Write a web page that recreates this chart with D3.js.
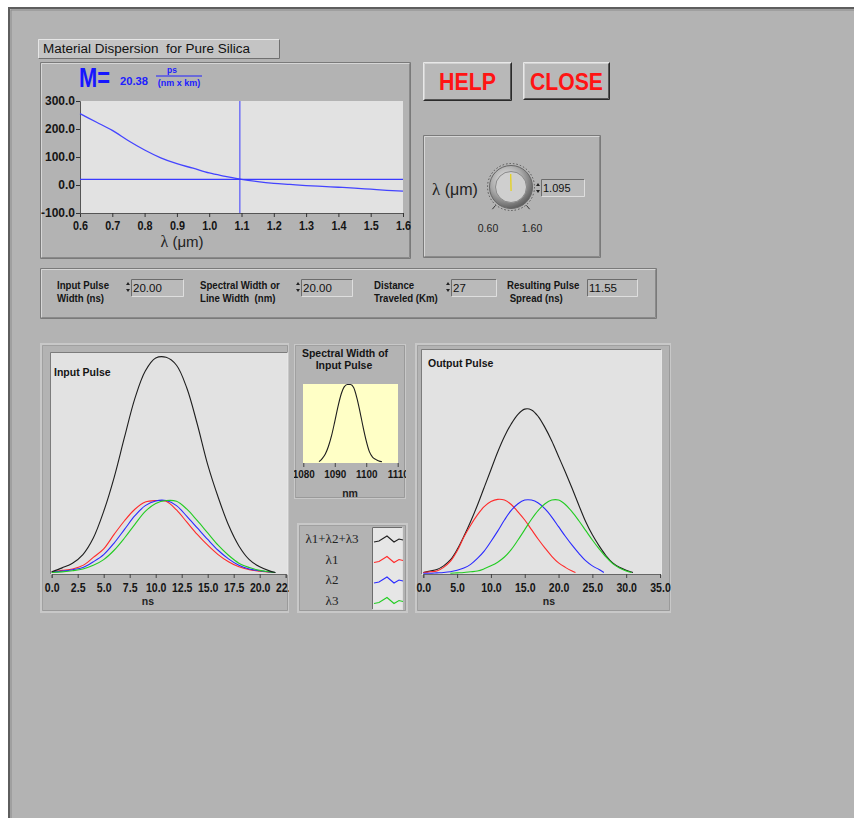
<!DOCTYPE html>
<html><head><meta charset="utf-8">
<script src="https://cdn.jsdelivr.net/npm/d3@7"></script>
<style>body{margin:0;background:#fff;} svg{display:block;}</style>
</head><body><svg id="c" width="854" height="818"></svg>
<script>
// ---------------- DATA ----------------
const dispLambda = [0.6,0.65,0.7,0.75,0.8,0.85,0.9,0.95,1.0,1.05,1.1,1.15,1.2,1.25,1.3,1.35,1.4,1.45,1.5,1.55,1.6];
const dispM      = [255,225,195,158,125,97,76,60,43,31,20,12,6,2,-2,-5,-8,-11,-15,-19,-22];
const cursorLambda = 1.095;
const dispersionM = 20.38;
const dispXTicks = [0.6,0.7,0.8,0.9,1.0,1.1,1.2,1.3,1.4,1.5,1.6];
const dispYTicks = [-100,0,100,200,300];

const paramLine1 = ["Input Pulse","Spectral Width or","Distance","Resulting Pulse"];
const paramLine2 = ["Width (ns)","Line Width  (nm)","Traveled (Km)"," Spread (ns)"];
const paramValues = ["20.00","20.00","27","11.55"];

const knobMin = 0.60, knobMax = 1.60, knobValue = 1.095;
const knobLabels = ["0.60","1.60"];

const inT   = [0,1,2,3,4,5,6,7,8,9,10,11,12,13,14,15,16,17,18,19,20,21,21.5];
const inSum = [0.01,0.065,0.13,0.25,0.48,0.85,1.32,1.88,2.42,2.8,2.98,2.99,2.88,2.56,2.06,1.5,1.05,0.66,0.37,0.18,0.08,0.02,0.0];
const inL1  = [0.01,0.03,0.05,0.10,0.21,0.33,0.53,0.72,0.88,0.98,1.0,0.99,0.87,0.70,0.53,0.38,0.25,0.15,0.08,0.04,0.02,0.005,0.0];
const inL2  = [0.005,0.02,0.04,0.07,0.15,0.25,0.41,0.60,0.79,0.93,0.995,1.0,0.93,0.78,0.62,0.46,0.31,0.19,0.10,0.05,0.025,0.008,0.0];
const inL3  = [0.0,0.01,0.025,0.05,0.10,0.18,0.31,0.48,0.67,0.85,0.96,1.0,0.99,0.88,0.72,0.55,0.38,0.24,0.13,0.07,0.03,0.01,0.0];
const inTicks = [0,2.5,5,7.5,10,12.5,15,17.5,20,22.5];

const outTSum = [0,1,2,3,4,5,6,7,8,9,10,11,12,13,14,15,16,17,18,19,20,21,22,23,24,25,26,27,28,29,30,31];
const outSum  = [0.01,0.03,0.05,0.1,0.18,0.32,0.5,0.7,0.92,1.16,1.4,1.64,1.85,2.02,2.15,2.22,2.21,2.12,1.97,1.79,1.58,1.37,1.15,0.92,0.7,0.52,0.37,0.24,0.14,0.08,0.04,0.01];
const outT1 = [0,1,2,3,4,5,6,7,8,9,10,11,12,13,14,15,16,17,18,19,20,21,22,22.5];
const outL1 = [0.01,0.02,0.03,0.08,0.16,0.3,0.49,0.65,0.79,0.9,0.97,1.0,0.99,0.93,0.83,0.72,0.59,0.46,0.34,0.23,0.14,0.08,0.03,0.01];
const outT2 = [0,1,2,3,4,5,6,7,8,9,10,11,12,13,14,15,16,17,18,19,20,21,22,23,24,25,26,26.7];
const outL2 = [0.0,0.0,0.005,0.01,0.02,0.04,0.07,0.12,0.2,0.3,0.43,0.57,0.72,0.85,0.94,0.99,0.99,0.95,0.87,0.76,0.63,0.5,0.38,0.27,0.17,0.1,0.05,0.01];
const outT3 = [4,5,6,7,8,9,10,11,12,13,14,15,16,17,18,19,20,21,22,23,24,25,26,27,28,29,30,30.8];
const outL3 = [0.0,0.005,0.01,0.02,0.03,0.06,0.1,0.15,0.22,0.32,0.45,0.59,0.73,0.85,0.94,0.99,0.99,0.93,0.83,0.71,0.58,0.45,0.33,0.22,0.13,0.07,0.03,0.01];
const outTicks = [0,5,10,15,20,25,30,35];

const specLambda = [1085,1086,1087,1088,1089,1090,1091,1092,1093,1094,1095,1096,1097,1098,1099,1100,1101,1102,1103,1104,1105];
const specPower  = [0.0,0.04,0.10,0.2,0.34,0.52,0.71,0.87,0.97,1.0,1.0,0.96,0.83,0.65,0.45,0.27,0.13,0.06,0.03,0.01,0.0];
const specTicks = [1080,1090,1100,1110];

const legendLabels = ["λ1+λ2+λ3","λ1","λ2","λ3"];
const seriesColors = ["#1e1e1e","#ff2a2a","#2a2aff","#22cc22"];

// ---------------- DRAW ----------------
const SANS = "'Liberation Sans',Arial,sans-serif";
const SERIF = "'Liberation Serif','Times New Roman',serif";
const BG = "#b3b3b3";
const svg = d3.select("#c");
const fmt1 = d => d.toFixed(1);

function squeeze(sel, k) {
  sel.each(function() {
    const t = d3.select(this), x = +t.attr("x") || 0;
    t.attr("transform", `translate(${x},0) scale(${k},1) translate(${-x},0)`);
  });
}
function edges(g, x, y, w, h, tl, br, sw) {
  sw = sw || 1;
  g.append("path").attr("d", `M${x},${y+h}V${y}H${x+w}`).attr("fill","none").attr("stroke",tl).attr("stroke-width",sw);
  g.append("path").attr("d", `M${x+w},${y}V${y+h}H${x}`).attr("fill","none").attr("stroke",br).attr("stroke-width",sw);
}
function groove(g, x, y, w, h) {
  edges(g, x+0.5, y+0.5, w, h, "#7a7a7a", "#7a7a7a");
  edges(g, x+1.5, y+1.5, w-2, h-2, "#d6d6d6", "#8a8a8a");
}
function sunkenBox(g, x, y, w, h, fill) {
  g.append("rect").attr("x",x).attr("y",y).attr("width",w).attr("height",h).attr("fill",fill||"#bababa");
  edges(g, x+0.5, y+0.5, w-1, h-1, "#6c6c6c", "#dedede");
}
function chartPanel(g, x, y, w, h) {
  g.append("rect").attr("x",x+1).attr("y",y+1).attr("width",w-2).attr("height",h-2)
    .attr("fill",BG).attr("stroke","#c8c8c8").attr("stroke-width",2);
  edges(g, x+2.5, y+2.5, w-5, h-5, "#a0a0a0", "#9a9a9a");
}
function spinner(g, x, y) {
  g.append("path").attr("d", `M${x},${y+6}l2,-3l2,3z`).attr("fill","#222");
  g.append("path").attr("d", `M${x},${y+10}l2,3l2,-3z`).attr("fill","#222");
}

// background
svg.append("rect").attr("x",8).attr("y",7).attr("width",846).attr("height",811).attr("fill",BG);
svg.append("path").attr("d","M9,818V8H854").attr("fill","none").attr("stroke","#5e5e5e").attr("stroke-width",2);
svg.append("path").attr("d","M11,818V10H854").attr("fill","none").attr("stroke","#8c8c8c").attr("stroke-width",1);

const defs = svg.append("defs");

// ---------- Dispersion panel ----------
const gD = svg.append("g");
gD.append("rect").attr("x",38).attr("y",39).attr("width",242).attr("height",20).attr("fill","#c4c4c4");
edges(gD, 38.5, 39.5, 241, 19, "#e6e6e6", "#707070");
gD.append("text").attr("x",43).attr("y",53).attr("font-family",SANS).attr("font-size",12.5)
  .attr("fill","#111").attr("textLength",207).attr("lengthAdjust","spacingAndGlyphs")
  .attr("xml:space","preserve").text("Material Dispersion  for Pure Silica");
groove(gD, 40, 62, 370, 196);

const xD = d3.scaleLinear().domain([0.6,1.6]).range([80,403]);
const yD = d3.scaleLinear().domain([-100,300]).range([213,101]);
gD.append("rect").attr("x",80).attr("y",101).attr("width",323).attr("height",112).attr("fill","#e2e2e2");

const axD = gD.append("g").attr("transform","translate(0,213)")
  .call(d3.axisBottom(xD).tickValues(dispXTicks).tickFormat(fmt1).tickSize(4).tickPadding(4));
const ayD = gD.append("g").attr("transform","translate(80,0)")
  .call(d3.axisLeft(yD).tickValues(dispYTicks).tickFormat(fmt1).tickSize(4).tickPadding(1));
[axD, ayD].forEach(a => {
  a.selectAll("text").attr("font-family",SANS).attr("font-weight","bold").attr("font-size",12).attr("fill","#151515");
  a.selectAll("line").attr("stroke","#333");
  a.select(".domain").attr("stroke","#555");
});
squeeze(axD.selectAll("text"), 0.9);

gD.append("path").datum(d3.range(dispLambda.length))
  .attr("d", d3.line().x(i => xD(dispLambda[i])).y(i => yD(dispM[i])).curve(d3.curveMonotoneX))
  .attr("fill","none").attr("stroke","#4444ff").attr("stroke-width",1.3);
gD.append("line").attr("x1",xD(0.6)).attr("x2",xD(1.6)).attr("y1",yD(dispersionM)).attr("y2",yD(dispersionM))
  .attr("stroke","#3a3aff").attr("stroke-width",1.3);
gD.append("line").attr("x1",xD(cursorLambda)).attr("x2",xD(cursorLambda)).attr("y1",yD(300)).attr("y2",yD(-100))
  .attr("stroke","#3a3aff").attr("stroke-width",1);

gD.append("text").attr("x",79).attr("y",87).attr("font-family",SANS).attr("font-weight","bold")
  .attr("font-size",27).attr("fill","#1616ff").attr("textLength",31).attr("lengthAdjust","spacingAndGlyphs").text("M=");
gD.append("text").attr("x",120).attr("y",85).attr("font-family",SANS).attr("font-weight","bold")
  .attr("font-size",11.5).attr("fill","#2020ff").attr("textLength",28).attr("lengthAdjust","spacingAndGlyphs")
  .text(d3.format(".2f")(dispersionM));
gD.append("text").attr("x",172).attr("y",73).attr("font-family",SANS).attr("font-weight","bold")
  .attr("font-size",8.5).attr("fill","#2020ff").attr("text-anchor","middle").text("ps");
gD.append("line").attr("x1",156).attr("x2",202).attr("y1",76).attr("y2",76).attr("stroke","#2020ff");
gD.append("text").attr("x",179).attr("y",86).attr("font-family",SANS).attr("font-weight","bold")
  .attr("font-size",9).attr("fill","#2020ff").attr("text-anchor","middle").text("(nm x km)");
const lt = gD.append("text").attr("x",182).attr("y",247).attr("text-anchor","middle").attr("fill","#222").attr("font-size",16);
lt.append("tspan").attr("font-family",SERIF).text("λ");
lt.append("tspan").attr("font-family",SANS).attr("font-size",15).text(" (μm)");

// ---------- Buttons ----------
function button(x, y, w, h, label) {
  const g = svg.append("g");
  g.append("rect").attr("x",x).attr("y",y).attr("width",w).attr("height",h).attr("fill","#b8b8b8");
  edges(g, x+0.5, y+0.5, w-1, h-1, "#e8e8e8", "#2a2a2a", 1);
  edges(g, x+1.5, y+1.5, w-3, h-3, "#d2d2d2", "#555", 1);
  g.append("text").attr("x",x+w/2).attr("y",y+28).attr("text-anchor","middle")
    .attr("font-family",SANS).attr("font-weight","bold").attr("font-size",23).attr("fill","#ff1414")
    .attr("textLength",label.length>4?73:57).attr("lengthAdjust","spacingAndGlyphs").text(label);
}
button(423,62,89,39,"HELP");
button(523,62,87,38,"CLOSE");

// ---------- Knob panel ----------
const gK = svg.append("g");
groove(gK, 423, 135, 177, 122);
const kt = gK.append("text").attr("x",432).attr("y",195).attr("fill","#222").attr("font-size",17);
kt.append("tspan").attr("font-family",SERIF).text("λ");
kt.append("tspan").attr("font-family",SANS).attr("font-size",16).text(" (μm)");
const kcx = 511, kcy = 187;
const rg = defs.append("radialGradient").attr("id","knobRing").attr("cx","40%").attr("cy","35%").attr("r","70%");
rg.append("stop").attr("offset","0%").attr("stop-color","#eeeeee");
rg.append("stop").attr("offset","55%").attr("stop-color","#a8a8a8");
rg.append("stop").attr("offset","100%").attr("stop-color","#555");
gK.append("circle").attr("cx",kcx).attr("cy",kcy).attr("r",23.5).attr("fill","none").attr("stroke","#555").attr("stroke-dasharray","1.5,2");
gK.append("circle").attr("cx",kcx).attr("cy",kcy).attr("r",21.5).attr("fill","url(#knobRing)").attr("stroke","#666");
gK.append("circle").attr("cx",kcx).attr("cy",kcy).attr("r",15.5).attr("fill","#cfcfcf").attr("stroke","#8a8a8a");
const knobAngle = d3.scaleLinear().domain([knobMin,knobMax]).range([-140,140]);
[knobMin, knobMax].forEach((v,i) => {
  const a = knobAngle(v) * Math.PI/180;
  gK.append("line").attr("x1",kcx+24*Math.sin(a)).attr("y1",kcy-24*Math.cos(a))
    .attr("x2",kcx+29*Math.sin(a)).attr("y2",kcy-29*Math.cos(a)).attr("stroke","#333");
  gK.append("text").attr("x",kcx+(i?21:-23)).attr("y",kcy+45).attr("text-anchor","middle")
    .attr("font-family",SANS).attr("font-size",10.5).attr("fill","#222").text(knobLabels[i]);
});
{
  const a = knobAngle(knobValue) * Math.PI/180;
  gK.append("line").attr("x1",kcx-4*Math.sin(a)).attr("y1",kcy+4*Math.cos(a))
    .attr("x2",kcx+13*Math.sin(a)).attr("y2",kcy-13*Math.cos(a)).attr("stroke","#e6d21a").attr("stroke-width",1.3);
}
spinner(gK, 536, 180);
sunkenBox(gK, 541, 179, 44, 18);
gK.append("text").attr("x",543).attr("y",192).attr("font-family",SANS).attr("font-size",11).attr("fill","#111")
  .text(d3.format(".3f")(knobValue));

// ---------- Parameter row ----------
const gP = svg.append("g");
groove(gP, 40, 268, 616, 50);
const pLabelX = [57,200,374,507];
const pBoxX = [131,301,451,587];
const pBoxW = [53,52,46,51];
paramLine1.forEach((s,i) => {
  const t1 = gP.append("text").attr("x",pLabelX[i]).attr("y",289).attr("font-family",SANS).attr("font-weight","bold")
    .attr("font-size",10.5).attr("fill","#151515").text(s);
  const t2 = gP.append("text").attr("x",pLabelX[i]).attr("y",302).attr("font-family",SANS).attr("font-weight","bold")
    .attr("font-size",10.5).attr("fill","#151515").attr("xml:space","preserve").text(paramLine2[i]);
  squeeze(t1, 0.92); squeeze(t2, 0.92);
  if (i < 3) spinner(gP, pBoxX[i]-5, 279);
  sunkenBox(gP, pBoxX[i], 279, pBoxW[i], 18);
  gP.append("text").attr("x",pBoxX[i]+2).attr("y",292).attr("font-family",SANS)
    .attr("font-size",11.5).attr("fill","#111").text(paramValues[i]);
});

// ---------- Pulse charts ----------
function pulseChart(opts) {
  const g = svg.append("g");
  chartPanel(g, opts.px, opts.py, opts.pw, opts.ph);
  const clipId = "clip" + opts.px;
  defs.append("clipPath").attr("id",clipId).append("rect")
    .attr("x",opts.px).attr("y",opts.py).attr("width",opts.pw-1).attr("height",opts.ph);
  g.attr("clip-path",`url(#${clipId})`);
  g.append("rect").attr("x",opts.ax).attr("y",opts.ay).attr("width",opts.aw).attr("height",opts.ah).attr("fill","#e2e2e2");
  edges(g, opts.ax-0.5, opts.ay-0.5, opts.aw+1, opts.ah+1, "#7c7c7c", "#e6e6e6");
  const x = d3.scaleLinear().domain(opts.xd).range(opts.xr);
  const y = d3.scaleLinear().domain(opts.yd).range([opts.ay+opts.ah, opts.ay]);
  const ax = g.append("g").attr("transform",`translate(0,${opts.ay+opts.ah})`)
    .call(d3.axisBottom(x).tickValues(opts.ticks).tickFormat(opts.fmt).tickSize(4).tickPadding(5));
  ax.selectAll("text").attr("font-family",SANS).attr("font-weight","bold").attr("font-size",opts.fs||12).attr("fill","#151515");
  squeeze(ax.selectAll("text"), 0.88);
  ax.selectAll("line").attr("stroke","#444");
  ax.select(".domain").attr("stroke","#666");
  g.append("text").attr("x",opts.unitX).attr("y",opts.unitY).attr("text-anchor","middle")
    .attr("font-family",SANS).attr("font-weight","bold").attr("font-size",10.5).attr("fill","#222").text(opts.unit);
  const plot = g.append("g");
  opts.series.forEach(s => {
    plot.append("path").datum(d3.range(s.t.length))
      .attr("d", d3.line().x(i => x(s.t[i])).y(i => y(s.v[i])).curve(d3.curveCatmullRom.alpha(0.5)))
      .attr("fill","none").attr("stroke",s.c).attr("stroke-width",1.1);
  });
  if (opts.title) g.append("text").attr("x",opts.titleX).attr("y",opts.titleY).attr("font-family",SANS)
    .attr("font-weight","bold").attr("font-size",10.5).attr("fill","#151515").text(opts.title);
  return g;
}

pulseChart({px:40,py:343,pw:250,ph:270, ax:51,ay:353,aw:236,ah:221,
  xd:[0,22.5], xr:[51.7,285.7], yd:[-0.02,3.05], ticks:inTicks, fmt:fmt1, fs:12,
  unit:"ns", unitX:148, unitY:605, title:"Input Pulse", titleX:54, titleY:376,
  series:[{t:inT,v:inL1,c:seriesColors[1]},{t:inT,v:inL2,c:seriesColors[2]},{t:inT,v:inL3,c:seriesColors[3]},{t:inT,v:inSum,c:seriesColors[0]}]});

pulseChart({px:415,py:343,pw:257,ph:270, ax:422,ay:350,aw:239,ah:224,
  xd:[0,35], xr:[423.3,660], yd:[-0.01,3.02], ticks:outTicks, fmt:fmt1, fs:12,
  unit:"ns", unitX:549, unitY:605, title:"Output Pulse", titleX:428, titleY:367,
  series:[{t:outTSum,v:outSum,c:seriesColors[0]},{t:outT1,v:outL1,c:seriesColors[1]},{t:outT2,v:outL2,c:seriesColors[2]},{t:outT3,v:outL3,c:seriesColors[3]}]});

// spectral chart
{
  const g = svg.append("g");
  chartPanel(g, 293, 343, 114, 157);
  defs.append("clipPath").attr("id","clipSpec").append("rect").attr("x",294).attr("y",344).attr("width",112).attr("height",155);
  g.attr("clip-path","url(#clipSpec)");
  ["Spectral Width of","Input Pulse"].forEach((s,i) => g.append("text").attr("x",i?344:345).attr("y",357+i*12)
    .attr("text-anchor","middle").attr("font-family",SANS).attr("font-weight","bold").attr("font-size",10.5).attr("fill","#151515").text(s));
  g.append("rect").attr("x",303).attr("y",384).attr("width",95).attr("height",79).attr("fill","#ffffc6");
  const x = d3.scaleLinear().domain([1080,1110]).range([303.3,397.7]);
  const y = d3.scaleLinear().domain([0,1]).range([461.7,384.5]);
  const ax = g.append("g").attr("transform","translate(0,463)")
    .call(d3.axisBottom(x).tickValues(specTicks).tickFormat(d3.format("d")).tickSize(4).tickPadding(3));
  ax.selectAll("text").attr("font-family",SANS).attr("font-weight","bold").attr("font-size",11).attr("fill","#151515");
  squeeze(ax.selectAll("text"), 0.9);
  ax.selectAll("line").attr("stroke","#444");
  ax.select(".domain").attr("stroke","none");
  g.append("text").attr("x",350).attr("y",497).attr("text-anchor","middle").attr("font-family",SANS)
    .attr("font-weight","bold").attr("font-size",10.5).attr("fill","#222").text("nm");
  g.append("path").datum(d3.range(specLambda.length))
    .attr("d", d3.line().x(i => x(specLambda[i])).y(i => y(specPower[i])).curve(d3.curveMonotoneX))
    .attr("fill","none").attr("stroke","#1e1e1e").attr("stroke-width",1.1);
}

// legend
{
  const g = svg.append("g");
  chartPanel(g, 297, 523, 111, 90);
  sunkenBox(g, 372, 527, 31, 83, "#e6e6e6");
  legendLabels.forEach((s,i) => {
    const cy = 539 + i*20.5;
    g.append("text").attr("x",332).attr("y",cy+4).attr("text-anchor","middle").attr("font-family",SERIF)
      .attr("font-size",13).attr("fill","#222").text(s);
    const sx = 374, pts = [[0,3],[5,2],[13,-3],[20,3],[25,0],[29,1]];
    g.append("path").attr("d", d3.line()(pts.map(p => [sx+p[0], cy+p[1]])))
      .attr("fill","none").attr("stroke",seriesColors[i]).attr("stroke-width",1.1);
  });
}
</script></body></html>
